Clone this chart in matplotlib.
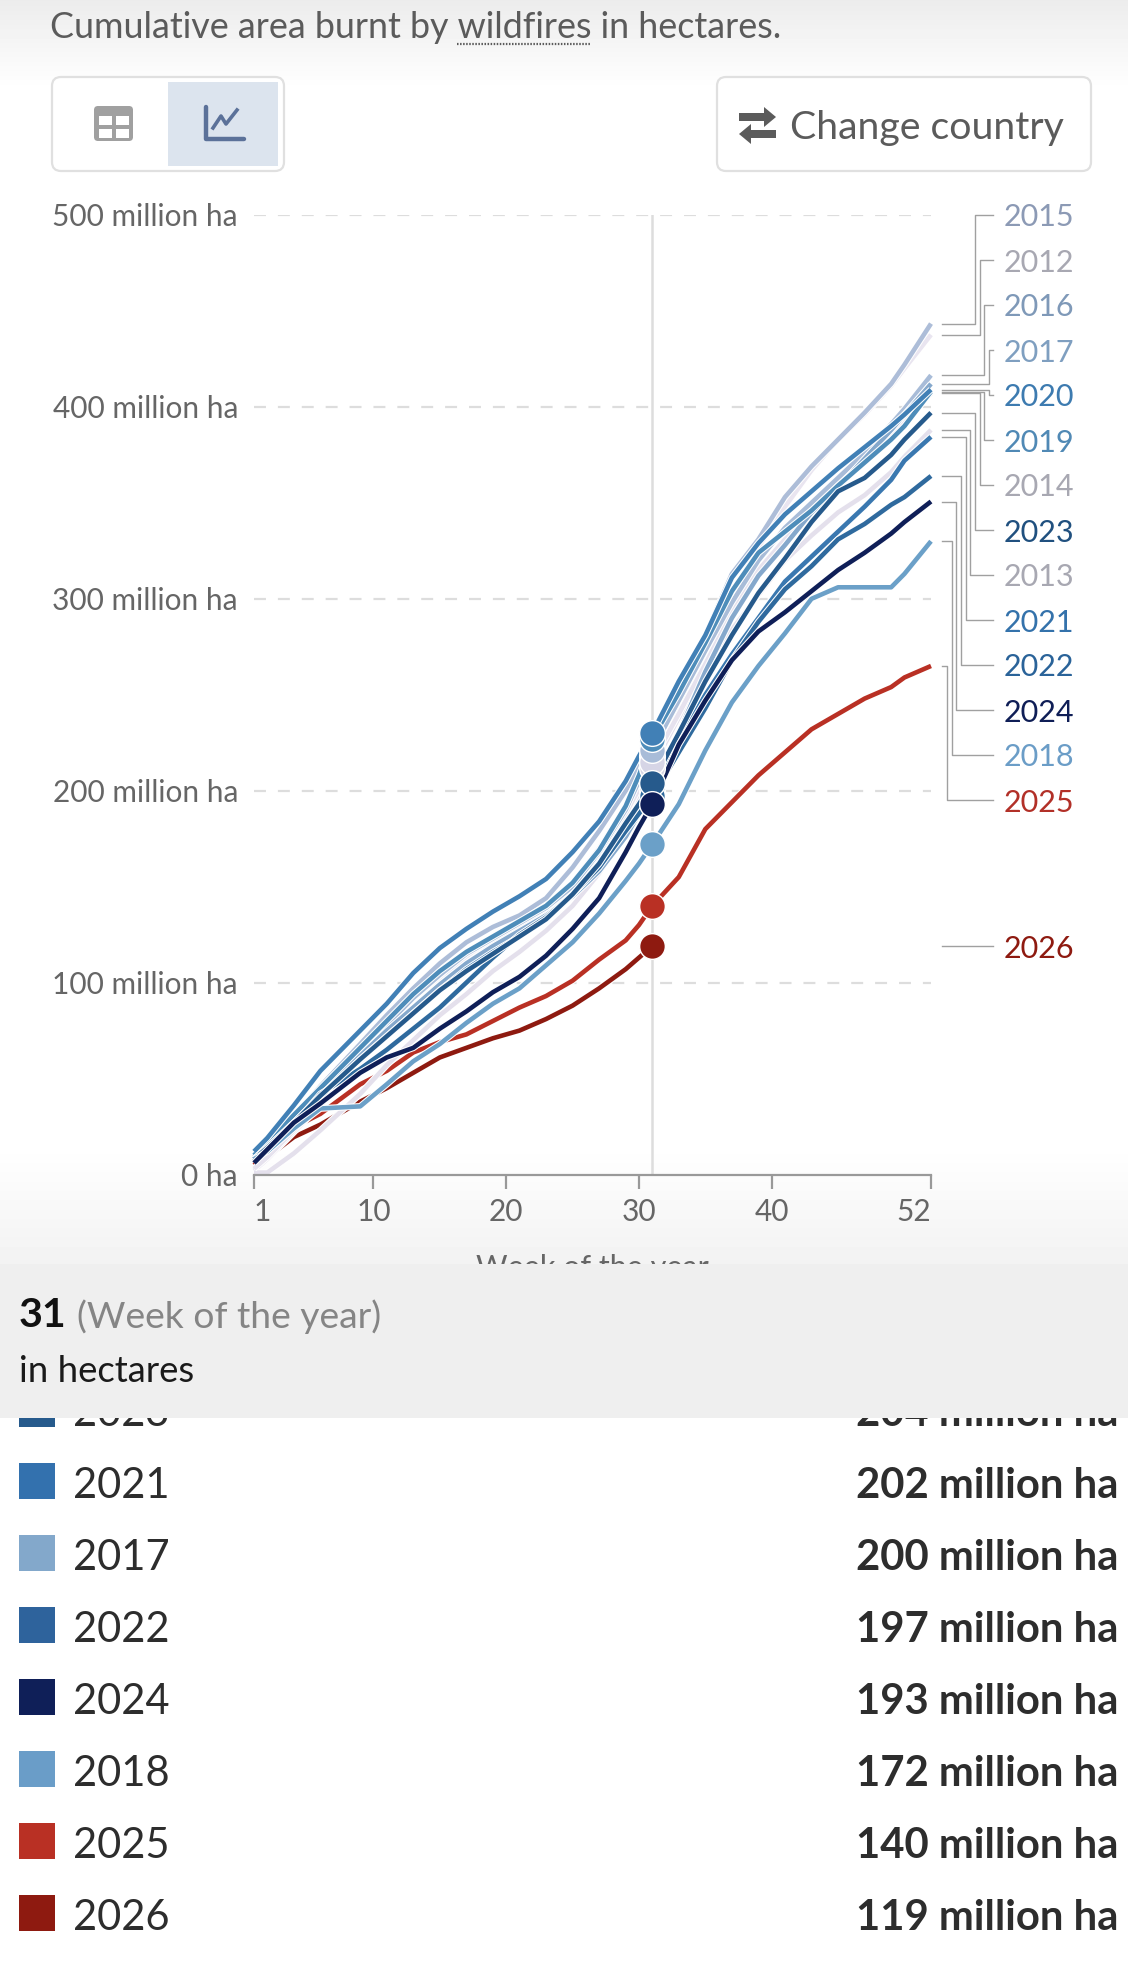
import matplotlib
matplotlib.use("Agg")
import matplotlib.pyplot as plt
import matplotlib.patheffects as pe
import numpy as np
from matplotlib.patches import FancyBboxPatch, Polygon, Rectangle

WEEKS = [1, 2, 4, 6, 9, 11, 13, 15, 17, 19, 21, 23, 25, 27, 29, 30, 31, 33, 35, 37, 39, 41, 43, 45, 47, 49, 50, 52]

Y2012 = [2, 8, 22, 36, 59, 73, 87, 100, 112, 122, 131, 140, 152, 170, 192, 205, 218, 245, 273, 302, 327, 348, 367, 383, 396, 411, 420, 437.6]
Y2013 = [1, 1, 11, 23, 42, 57, 70, 83, 94, 106, 116, 127, 140, 157, 178, 195, 212, 238, 263, 284, 302, 320, 333, 345, 354, 366, 374, 388]
Y2014 = [3, 9, 23, 37, 60, 73, 87, 99, 110, 120, 128, 137, 150, 167, 188, 201, 215, 240, 266, 293, 315, 331, 345, 358, 372, 385, 393, 407]
Y2015 = [9, 16, 30, 46, 68, 83, 97, 110, 121, 129, 135, 144, 160, 179, 200, 213, 225, 251, 281, 313, 331, 353, 369, 383, 397, 412, 422, 443.4]
Y2016 = [8, 15, 29, 43, 64, 78, 92, 104, 115, 123, 131, 139, 150, 168, 190, 205, 221, 247, 273, 298, 320, 337, 350, 363, 376, 391, 399, 416.5]
Y2017 = [9, 15, 28, 42, 62, 75, 87, 99, 110, 119, 127, 135, 145, 158, 176, 188, 200, 230, 262, 290, 312, 328, 345, 358, 373, 388, 396, 412]
Y2018 = [8, 12, 24, 34.4, 35.5, 47, 59, 68, 79, 89, 97, 109, 121, 136, 153, 162, 172, 193, 221, 246, 265, 282, 300, 306, 306, 306, 313, 330]
Y2019 = [10, 17, 31, 45, 66, 80, 94, 106, 116, 124, 132, 140, 152, 169, 192, 208, 227, 251, 277, 304, 324, 335, 346, 359, 371, 383, 390, 408]
Y2020 = [12, 19, 36, 54, 75, 89, 105, 118, 128, 137, 145, 154, 168, 184, 205, 218, 230, 257, 281, 311, 329, 344, 356, 368, 379, 390, 396, 409]
Y2021 = [8, 14, 27, 40, 60, 72, 84, 96, 107, 116, 124, 133, 146, 161, 180, 191, 202, 226, 250, 271, 290, 309, 322, 335, 348, 362, 372, 384.4]
Y2022 = [7, 13, 26, 42, 55, 65, 76, 87, 100, 113, 125, 134, 146, 160, 179, 188, 197, 220, 243, 268, 288, 305, 317, 331, 339, 349, 353, 364]
Y2023 = [8, 14, 27, 41, 60, 72, 84, 96, 106, 115, 124, 133, 146, 162, 183, 193, 204, 230, 257, 281, 303, 321, 340, 356, 363, 375, 383, 397]
Y2024 = [6, 13, 27, 37, 53, 61, 66, 76, 85, 95, 103, 114, 128, 144, 168, 181, 193, 224, 247, 268, 283, 293, 304, 315, 324, 334, 340, 350.7]
Y2025 = [5, 11, 24.5, 31.6, 47, 54, 63.6, 69, 73, 80, 87, 93, 101, 112, 122, 130, 140, 155, 180, 194, 208, 220, 232, 240, 248, 254, 259, 265]
Y2026 = [5, 9, 19.5, 26, 38, 45, 53, 61, 66, 71, 75, 81, 88, 97, 107, 113, 119]

YEARS = [2012, 2013, 2014, 2015, 2016, 2017, 2018, 2019, 2020, 2021, 2022, 2023, 2024, 2025, 2026]
SERIES = [Y2012, Y2013, Y2014, Y2015, Y2016, Y2017, Y2018, Y2019, Y2020, Y2021, Y2022, Y2023, Y2024, Y2025, Y2026]
LINE_COLORS = ["#e9e5f0", "#e4e0ec", "#e6e2ee", "#adbdd8", "#a8bcd8", "#85a8cc", "#6ba0c8", "#4e8dba", "#4180b6",
               "#3a78b0", "#2f6a9e", "#265a8c", "#0f1f58", "#b93024", "#8e1a10"]
DOT_COLORS = ["#d7d5e6", "#d5d4e4", "#d6d5e6", "#adbdd8", "#a8bcd8", "#85a8cc", "#6ba0c8", "#4e8dba", "#4180b6",
              "#3a78b0", "#2f6a9e", "#265a8c", "#0f1f58", "#b93024", "#8e1a10"]
LABEL_COLORS = ["#a8a8b2", "#a8a8b2", "#a8a8b2", "#8c9ab5", "#7f99b8", "#7f9fc0", "#6b9dc7", "#5089b5", "#3d7bb0",
                "#3472ab", "#2a6399", "#20507f", "#0f1e56", "#b23028", "#8e1a10"]

# order of the labels right of the chart, top to bottom
LABEL_ORDER = [2015, 2012, 2016, 2017, 2020, 2019, 2014, 2023, 2013, 2021, 2022, 2024, 2018, 2025]
DRAW_ORDER = [2026, 2025, 2012, 2013, 2014, 2015, 2016, 2017, 2019, 2020, 2021, 2022, 2023, 2018, 2024]

Y_TICKS = [0, 100, 200, 300, 400, 500]
Y_TICK_LABELS = ["0 ha", "100 million ha", "200 million ha", "300 million ha", "400 million ha", "500 million ha"]
X_TICKS = [1, 10, 20, 30, 40, 52]
HOVER_WEEK = 31

TABLE_YEARS = [2023, 2021, 2017, 2022, 2024, 2018, 2025, 2026]
TABLE_VALUES = ["204 million ha", "202 million ha", "200 million ha", "197 million ha",
                "193 million ha", "172 million ha", "140 million ha", "119 million ha"]
TABLE_COLORS = ["#265a8c", "#3371ae", "#83a8cb", "#2e639c", "#0f1f58", "#6a9dc8", "#b93024", "#8e1a10"]

W, H = 1128, 1971
GRID = "#dddddd"
AXIS = "#999999"
TICK_TEXT = "#666666"


def px_axes(fig, zorder):
    a = fig.add_axes([0, 0, 1, 1], zorder=zorder)
    a.set_xlim(0, W)
    a.set_ylim(H, 0)
    a.axis("off")
    return a


def draw_background(bg):
    top = np.linspace(0.925, 1, 90).reshape(-1, 1)
    bg.imshow(top, extent=(0, W, 90, 0), cmap="gray", vmin=0, vmax=1, aspect="auto", zorder=0)
    bottom = np.linspace(1, 0.95, 120).reshape(-1, 1)
    bg.imshow(bottom, extent=(0, W, 1264, 1144), cmap="gray", vmin=0, vmax=1, aspect="auto", zorder=0)
    bg.set_xlim(0, W)
    bg.set_ylim(H, 0)


def draw_chart(ax):
    ax.set_xlim(1, 52)
    ax.set_ylim(0, 500)
    ax.patch.set_alpha(0)
    for s in ["top", "left", "right"]:
        ax.spines[s].set_visible(False)
    ax.spines["bottom"].set_color(AXIS)
    ax.spines["bottom"].set_linewidth(1.6)

    ax.set_yticks(Y_TICKS, Y_TICK_LABELS)
    ax.tick_params(axis="y", length=0, pad=11.5, labelsize=21.5, labelcolor=TICK_TEXT)
    ax.grid(axis="y", color=GRID, lw=1.6, ls=(0, (8.6, 8.6)))
    ax.yaxis.get_gridlines()[0].set_visible(False)
    ax.set_axisbelow(True)

    ax.set_xticks(X_TICKS, [str(t) for t in X_TICKS])
    ax.tick_params(axis="x", length=10, width=1.6, color=AXIS, pad=7, labelsize=21.5, labelcolor=TICK_TEXT)
    labels = ax.get_xticklabels()
    labels[0].set_ha("left")
    labels[-1].set_ha("right")
    ax.set_xlabel("Week of the year", fontsize=22, color=TICK_TEXT, labelpad=20)

    ax.axvline(HOVER_WEEK, color=GRID, lw=1.8, zorder=1)

    for year in DRAW_ORDER:
        i = YEARS.index(year)
        vals = SERIES[i]
        line, = ax.plot(WEEKS[:len(vals)], vals, color=LINE_COLORS[i], lw=3.3, zorder=2,
                        solid_joinstyle="round", solid_capstyle="butt", clip_on=False)
        line.set_path_effects([pe.Stroke(linewidth=4.8, foreground="white"), pe.Normal()])

    week_idx = WEEKS.index(HOVER_WEEK)
    for i, year in enumerate(YEARS):
        ax.plot(HOVER_WEEK, SERIES[i][week_idx], "o", ms=18.5, mfc=DOT_COLORS[i], mec="white", mew=1.0,
                zorder=3, clip_on=False)


def draw_leaders(ax, front):
    to_px = ax.transData + front.transData.inverted()

    def y_px(v):
        return to_px.transform((1, v))[1]

    elbow = [975, 979.5, 984, 989, 989, 984, 979.5, 975, 970, 965.7, 961, 956, 952, 947]
    for n, year in enumerate(LABEL_ORDER):
        i = YEARS.index(year)
        end_y = y_px(SERIES[i][-1])
        lab_y = 215 + 45 * n
        front.plot([942, elbow[n], elbow[n], 993], [end_y, end_y, lab_y, lab_y], color="#a0a0a0", lw=1.0)
        front.text(1004, lab_y, str(year), color=LABEL_COLORS[i], fontsize=22, va="center_baseline")
    i = YEARS.index(2026)
    lab_y = y_px(SERIES[i][-1])
    front.plot([942, 993], [lab_y, lab_y], color="#a0a0a0", lw=1.0)
    front.text(1004, lab_y, "2026", color=LABEL_COLORS[i], fontsize=22, va="center_baseline")


def draw_controls(front):
    front.text(50, 25, "Cumulative area burnt by wildfires in hectares.", color="#5b5b5b", fontsize=25.8,
               va="center_baseline")
    front.plot([457, 590], [44, 44], color="#5b5b5b", lw=1.6, ls=(0, (1.1, 1.1)))

    for x0, x1 in [(52, 284), (717, 1091)]:
        front.add_patch(FancyBboxPatch((x0, 77), x1 - x0, 94, boxstyle="round,pad=0,rounding_size=9",
                                       fc="white", ec="#e0e0e0", lw=1.6))
    front.add_patch(Rectangle((168, 82), 110, 84, fc="#dce4ee", ec="none"))

    front.add_patch(FancyBboxPatch((94, 106), 39, 35, boxstyle="round,pad=0,rounding_size=4", fc="#a0a0a0", ec="none"))
    for cx in (99, 116):
        for cy in (116, 129):
            front.add_patch(Rectangle((cx, cy), 13, 8.5, fc="white", ec="none"))

    front.plot([206, 206, 244], [107, 139, 139], color="#5b7199", lw=3.2, solid_capstyle="round")
    front.plot([213, 221, 226, 237], [128, 116, 124, 110], color="#5b7199", lw=2.6)

    arrows = "#5b5b5b"
    front.add_patch(Rectangle((739, 113), 27, 8, fc=arrows, ec="none"))
    front.add_patch(Polygon([(764, 107), (776, 117), (764, 127)], fc=arrows, ec="none"))
    front.add_patch(Rectangle((749, 130), 27, 8, fc=arrows, ec="none"))
    front.add_patch(Polygon([(751, 124), (739, 134), (751, 144)], fc=arrows, ec="none"))
    front.text(790, 125, "Change country", color="#5b5b5b", fontsize=28.3, va="center_baseline")


def draw_table(front):
    for n, year in enumerate(TABLE_YEARS):
        yc = 1409 + 72 * n
        front.add_patch(Rectangle((19, yc - 18), 36, 36, fc=TABLE_COLORS[n], ec="none", zorder=2))
        front.text(73, yc + 2, str(year), color="#2d2d2d", fontsize=30, va="center_baseline", zorder=2)
        front.text(1118, yc + 2, TABLE_VALUES[n], color="#2d2d2d", fontsize=30.2, fontweight="bold",
                   ha="right", va="center_baseline", zorder=2)

    front.add_patch(Rectangle((0, 1264), W, 154, fc="#efefef", ec="none", zorder=5))
    front.text(19, 1312, "31", color="#111111", fontsize=29.5, fontweight="bold", va="center_baseline", zorder=6)
    front.text(77, 1314, "(Week of the year)", color="#858585", fontsize=26.8, va="center_baseline", zorder=6)
    front.text(19, 1369, "in hectares", color="#1a1a1a", fontsize=26.3, va="center_baseline", zorder=6)


def main():
    plt.rcParams["font.family"] = ["Lato", "DejaVu Sans"]
    plt.rcParams["lines.scale_dashes"] = False

    fig = plt.figure(figsize=(W / 100, H / 100), dpi=100, facecolor="white")
    bg = px_axes(fig, 0)
    draw_background(bg)

    ax = fig.add_axes([254 / W, 1 - 1174.5 / H, (931 - 254) / W, (1174.5 - 215) / H], zorder=1)
    draw_chart(ax)

    front = px_axes(fig, 2)
    draw_leaders(ax, front)
    draw_controls(front)
    draw_table(front)

    fig.savefig("out.png", dpi=100)
    plt.close(fig)


if __name__ == "__main__":
    main()
